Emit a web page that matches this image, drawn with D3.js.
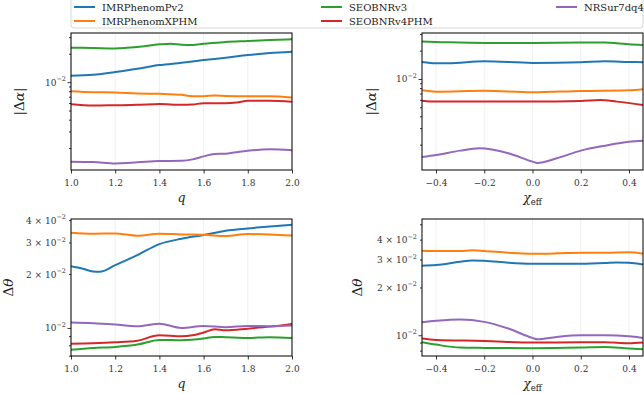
<!DOCTYPE html>
<meta charset="utf-8">
<style>
html, body { margin: 0; background: #fff; }
.frame { fill: none; stroke: #000; stroke-width: 1; }
.grid line { stroke: #ebebeb; stroke-width: 0.8; }
.tick line { stroke: #000; stroke-width: 0.8; }
.line { fill: none; stroke-width: 2; stroke-linejoin: round; stroke-linecap: round; }
</style>
<body></body>
<script src="https://d3js.org/d3.v7.min.js"></script>
<script>
var FONT = "'DejaVu Serif', serif";

// models and colours
var models = ["IMRPhenomPv2", "IMRPhenomXPHM", "SEOBNRv3", "SEOBNRv4PHM", "NRSur7dq4"];
var colors = ["#1f77b4", "#ff7f0e", "#2ca02c", "#d62728", "#9467bd"];

// tick labels
var qTicks = [1.0, 1.2, 1.4, 1.6, 1.8, 2.0];
var chiTicks = [-0.4, -0.2, 0.0, 0.2, 0.4];
var alphaLabelTicks = [0.01];
var thetaLabelTicks = [0.01, 0.02, 0.03, 0.04];

// |dalpha| vs q : x values, y values per model
var aq_x_Pv2 = [1.0, 1.1, 1.2, 1.3, 1.4, 1.5, 1.6, 1.7, 1.8, 1.9, 2.0];
var aq_y_Pv2 = [0.01168, 0.01197, 0.01278, 0.01386, 0.01516, 0.01606, 0.01714, 0.01815, 0.01937, 0.02034, 0.02102];
var aq_x_XPHM = [1.0, 1.1, 1.2, 1.3, 1.4, 1.5, 1.55, 1.6, 1.65, 1.7, 1.8, 1.9, 2.0];
var aq_y_XPHM = [0.00802, 0.00783, 0.00777, 0.00758, 0.00751, 0.00733, 0.00710, 0.00710, 0.00721, 0.00715, 0.00710, 0.00710, 0.00687];
var aq_x_v3 = [1.0, 1.1, 1.2, 1.3, 1.4, 1.45, 1.5, 1.55, 1.6, 1.7, 1.8, 1.9, 2.0];
var aq_y_v3 = [0.02317, 0.0230, 0.0228, 0.02356, 0.02517, 0.02558, 0.02495, 0.02475, 0.0256, 0.02664, 0.0273, 0.02798, 0.02844];
var aq_x_v4 = [1.0, 1.1, 1.2, 1.3, 1.4, 1.5, 1.55, 1.6, 1.7, 1.75, 1.8, 1.9, 2.0];
var aq_y_v4 = [0.00583, 0.00565, 0.00569, 0.00574, 0.00588, 0.00574, 0.00579, 0.00598, 0.00598, 0.00608, 0.00633, 0.00633, 0.00618];
var aq_x_NR = [1.0, 1.1, 1.2, 1.3, 1.4, 1.5, 1.55, 1.6, 1.65, 1.7, 1.8, 1.9, 2.0];
var aq_y_NR = [0.001432, 0.001421, 0.001375, 0.00141, 0.001456, 0.001468, 0.001517, 0.001633, 0.001729, 0.001743, 0.001875, 0.001937, 0.001891];

// |dalpha| vs chi_eff
var ac_x_Pv2 = [-0.458, -0.4, -0.35, -0.2, 0.0, 0.2, 0.3, 0.4, 0.458];
var ac_y_Pv2 = [0.01516, 0.01468, 0.01468, 0.01541, 0.0148, 0.01504, 0.01541, 0.01516, 0.01504];
var ac_x_XPHM = [-0.458, -0.4, -0.2, 0.0, 0.2, 0.4, 0.458];
var ac_y_XPHM = [0.00758, 0.00733, 0.00751, 0.00721, 0.00745, 0.00758, 0.00777];
var ac_x_v3 = [-0.458, -0.4, -0.2, 0.0, 0.2, 0.3, 0.35, 0.4, 0.458];
var ac_y_v3 = [0.02496, 0.02475, 0.02415, 0.02415, 0.02435, 0.02435, 0.02395, 0.02337, 0.0230];
var ac_x_v4 = [-0.458, -0.4, -0.2, 0.0, 0.2, 0.28, 0.35, 0.458];
var ac_y_v4 = [0.00588, 0.00574, 0.00574, 0.00574, 0.00583, 0.00598, 0.00574, 0.00529];
var ac_x_NR = [-0.458, -0.4, -0.3, -0.22, -0.1, 0.0, 0.02, 0.1, 0.2, 0.3, 0.4, 0.458];
var ac_y_NR = [0.00148, 0.001554, 0.001729, 0.00183, 0.001619, 0.00132, 0.001278, 0.001432, 0.001729, 0.001953, 0.002154, 0.002208];

// dtheta vs q
var tq_x_Pv2 = [1.0, 1.05, 1.1, 1.13, 1.2, 1.3, 1.4, 1.5, 1.6, 1.7, 1.8, 1.9, 2.0];
var tq_y_Pv2 = [0.02213, 0.02148, 0.02067, 0.02058, 0.02242, 0.02551, 0.0294, 0.03149, 0.03302, 0.03491, 0.03597, 0.03691, 0.03771];
var tq_x_XPHM = [1.0, 1.1, 1.2, 1.3, 1.4, 1.5, 1.6, 1.7, 1.8, 1.9, 2.0];
var tq_y_XPHM = [0.03403, 0.03359, 0.03373, 0.03273, 0.03359, 0.0333, 0.03316, 0.0326, 0.03344, 0.0333, 0.03287];
var tq_x_v3 = [1.0, 1.1, 1.2, 1.3, 1.4, 1.5, 1.6, 1.65, 1.7, 1.8, 1.9, 2.0];
var tq_y_v3 = [0.00756, 0.00773, 0.00783, 0.00807, 0.00857, 0.00853, 0.00872, 0.00891, 0.00887, 0.00879, 0.00887, 0.00879];
var tq_x_v4 = [1.0, 1.1, 1.2, 1.3, 1.4, 1.5, 1.55, 1.6, 1.65, 1.7, 1.8, 1.9, 2.0];
var tq_y_v4 = [0.00817, 0.00821, 0.00831, 0.00849, 0.0091, 0.00898, 0.0091, 0.00942, 0.00983, 0.0097, 0.00991, 0.01017, 0.01053];
var tq_x_NR = [1.0, 1.1, 1.2, 1.3, 1.4, 1.5, 1.6, 1.7, 1.8, 1.9, 2.0];
var tq_y_NR = [0.01071, 0.01062, 0.01044, 0.01022, 0.01057, 0.0100, 0.01026, 0.01009, 0.01026, 0.01022, 0.01031];

// dtheta vs chi_eff
var tc_x_Pv2 = [-0.458, -0.4, -0.3, -0.25, -0.2, -0.1, 0.0, 0.1, 0.2, 0.3, 0.35, 0.4, 0.458];
var tc_y_Pv2 = [0.02741, 0.02768, 0.02905, 0.02962, 0.02948, 0.02863, 0.02822, 0.02822, 0.02822, 0.0285, 0.02877, 0.02863, 0.02795];
var tc_x_XPHM = [-0.458, -0.4, -0.3, -0.25, -0.2, -0.1, 0.0, 0.1, 0.2, 0.3, 0.4, 0.458];
var tc_y_XPHM = [0.0341, 0.03394, 0.03394, 0.03426, 0.03394, 0.03311, 0.03264, 0.0328, 0.03311, 0.03311, 0.03328, 0.03264];
var tc_x_v3 = [-0.458, -0.4, -0.3, -0.2, 0.0, 0.2, 0.3, 0.4, 0.458];
var tc_y_v3 = [0.00903, 0.00873, 0.00836, 0.00832, 0.00828, 0.00836, 0.00844, 0.00824, 0.00816];
var tc_x_v4 = [-0.458, -0.4, -0.2, 0.0, 0.2, 0.3, 0.4, 0.458];
var tc_y_v4 = [0.00953, 0.00934, 0.00921, 0.00899, 0.00903, 0.00903, 0.0089, 0.00899];
var tc_x_NR = [-0.458, -0.4, -0.3, -0.2, -0.1, 0.0, 0.02, 0.1, 0.2, 0.3, 0.4, 0.458];
var tc_y_NR = [0.01208, 0.01232, 0.01256, 0.01214, 0.01102, 0.00962, 0.00943, 0.00976, 0.0100, 0.0100, 0.00986, 0.00962];

var width = 644, height = 394;
var svg = d3.select("body").append("svg")
    .attr("width", width)
    .attr("height", height)
    .style("font-family", FONT);

function pairs(xs, ys) { return xs.map(function(x, i) { return [x, ys[i]]; }); }

var panels = [
  { left: 71, top: 33, xDom: [1, 2], yDom: [1.17e-3, 3.32e-2], xt: qTicks, yt: alphaLabelTicks, xl: "q", yl: "alpha",
    series: [pairs(aq_x_Pv2, aq_y_Pv2), pairs(aq_x_XPHM, aq_y_XPHM), pairs(aq_x_v3, aq_y_v3), pairs(aq_x_v4, aq_y_v4), pairs(aq_x_NR, aq_y_NR)] },
  { left: 422, top: 33, xDom: [-0.458, 0.458], yDom: [1.076e-3, 3.08e-2], xt: chiTicks, yt: alphaLabelTicks, xl: "chi", yl: "alpha",
    series: [pairs(ac_x_Pv2, ac_y_Pv2), pairs(ac_x_XPHM, ac_y_XPHM), pairs(ac_x_v3, ac_y_v3), pairs(ac_x_v4, ac_y_v4), pairs(ac_x_NR, ac_y_NR)] },
  { left: 71, top: 219, xDom: [1, 2], yDom: [6.97e-3, 4.06e-2], xt: qTicks, yt: thetaLabelTicks, xl: "q", yl: "theta",
    series: [pairs(tq_x_Pv2, tq_y_Pv2), pairs(tq_x_XPHM, tq_y_XPHM), pairs(tq_x_v3, tq_y_v3), pairs(tq_x_v4, tq_y_v4), pairs(tq_x_NR, tq_y_NR)] },
  { left: 422, top: 219, xDom: [-0.458, 0.458], yDom: [7.4e-3, 5.4e-2], xt: chiTicks, yt: thetaLabelTicks, xl: "chi", yl: "theta",
    series: [pairs(tc_x_Pv2, tc_y_Pv2), pairs(tc_x_XPHM, tc_y_XPHM), pairs(tc_x_v3, tc_y_v3), pairs(tc_x_v4, tc_y_v4), pairs(tc_x_NR, tc_y_NR)] }
];
var pw = 221, ph = 137;

// writes "m × 10^-2" as text with a superscript
function sciLabel(sel, v) {
  var e = Math.floor(Math.log10(v) + 1e-9);
  var m = Math.round(v / Math.pow(10, e));
  sel.text(m === 1 ? "10" : m + " \u00d7 10");
  sel.append("tspan").attr("dy", -4.5).attr("font-size", "6.5px").text("\u2212" + (-e));
}

panels.forEach(function(p, k) {
  var x = d3.scaleLinear().domain(p.xDom).range([0, pw]);
  var y = d3.scaleLog().domain(p.yDom).range([ph, 0]);
  var g = svg.append("g").attr("transform", "translate(" + p.left + "," + p.top + ")");

  g.append("clipPath").attr("id", "clip" + k)
    .append("rect").attr("width", pw).attr("height", ph);

  // vertical grid
  g.append("g").attr("class", "grid")
    .selectAll("line").data(p.xt).join("line")
    .attr("x1", function(d) { return x(d); }).attr("x2", function(d) { return x(d); })
    .attr("y1", 0).attr("y2", ph);

  var line = d3.line()
    .x(function(d) { return x(d[0]); })
    .y(function(d) { return y(d[1]); })
    .curve(d3.curveMonotoneX);

  g.append("g").attr("clip-path", "url(#clip" + k + ")")
    .selectAll("path").data(p.series).join("path")
    .attr("class", "line")
    .attr("stroke", function(d, i) { return colors[i]; })
    .attr("d", line);

  // x axis
  var xa = g.append("g").attr("transform", "translate(0," + ph + ")")
    .call(d3.axisBottom(x).tickValues(p.xt).tickSize(3.5).tickFormat(function(d) {
      return d3.format(".1f")(d).replace("-", "\u2212");
    }));
  xa.attr("font-family", FONT);
  xa.select(".domain").remove();
  xa.selectAll("text").attr("font-size", "9px").attr("dy", "1.05em").attr("fill", "#333");

  // y axis: minor ticks and the decade tick
  var minor = y.ticks().filter(function(d) { return Math.abs(d - 0.01) > 1e-9; });
  var ya = g.append("g").call(d3.axisLeft(y).tickValues(minor).tickSize(2).tickFormat(""));
  ya.select(".domain").remove();
  var yb = g.append("g").call(d3.axisLeft(y).tickValues([0.01]).tickSize(3.5).tickFormat(""));
  yb.select(".domain").remove();

  g.selectAll(".ylab").data(p.yt).join("text")
    .attr("class", "ylab")
    .attr("x", -5).attr("y", function(d) { return y(d) + 3.5; })
    .attr("text-anchor", "end").attr("font-size", "9px").attr("fill", "#333")
    .each(function(d) { sciLabel(d3.select(this), d); });

  g.append("rect").attr("class", "frame").attr("width", pw).attr("height", ph);

  // axis titles
  var xt = g.append("text").attr("x", pw / 2).attr("y", ph + 32)
    .attr("text-anchor", "middle").attr("font-size", "12.5px").attr("fill", "#222");
  if (p.xl === "q") {
    xt.attr("font-style", "italic").text("q");
  } else {
    xt.append("tspan").attr("font-style", "italic").text("\u03c7");
    xt.append("tspan").attr("font-size", "8.5px").attr("dy", 3).text("eff");
  }

  var yx = p.yl === "alpha" ? (k === 0 ? -47 : -46) : (k === 2 ? -58 : -60);
  var ytl = g.append("text")
    .attr("transform", "translate(" + yx + "," + (ph / 2) + ") rotate(-90)")
    .attr("text-anchor", "middle").attr("font-size", "13.5px").attr("fill", "#222");
  if (p.yl === "alpha") {
    ytl.append("tspan").text("|\u0394");
    ytl.append("tspan").attr("font-style", "italic").text("\u03b1");
    ytl.append("tspan").text("|");
  } else {
    ytl.append("tspan").text("\u0394");
    ytl.append("tspan").attr("font-style", "italic").text("\u03b8");
  }
});

// legend
var lg = svg.append("g");
lg.append("rect")
  .attr("x", 71).attr("y", -4).attr("width", 572).attr("height", 32)
  .attr("rx", 3).attr("fill", "#fff").attr("fill-opacity", 0.8)
  .attr("stroke", "#ccc").attr("stroke-width", 0.8);
var legX = [74, 321, 556], legY = [7, 21];
var items = lg.selectAll("g.item").data(models).join("g").attr("class", "item")
  .attr("transform", function(d, i) {
    return "translate(" + legX[Math.floor(i / 2)] + "," + legY[i % 2] + ")";
  });
items.append("line").attr("x1", 0).attr("x2", 21)
  .attr("stroke", function(d, i) { return colors[i]; }).attr("stroke-width", 2);
items.append("text").attr("x", 28).attr("y", 3.5).attr("font-size", "10px").attr("fill", "#222")
  .text(function(d) { return d; });
</script>
